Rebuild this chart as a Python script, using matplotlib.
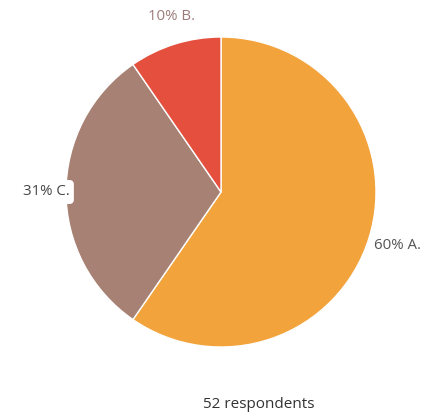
import matplotlib
matplotlib.use("Agg")
import matplotlib.pyplot as plt

# Survey answers (52 respondents)
labels = ["A.", "C.", "B."]
counts = [31, 16, 5]
percent_labels = ["60%", "31%", "10%"]
colors = ["#F2A33C", "#A78174", "#E5503E"]
total_label = "52 respondents"

plt.rcParams["font.family"] = ["Open Sans", "DejaVu Sans"]

fig = plt.figure(figsize=(4.25, 4.2), dpi=100)
fig.patch.set_facecolor("white")

ax = fig.add_axes([66 / 425, 1 - 347 / 420, 310 / 425, 310 / 420])
ax.pie(counts, colors=colors, startangle=90, counterclock=False,
       wedgeprops=dict(edgecolor="white", linewidth=1.0))
ax.set_aspect("equal")
ax.set_xlim(-1, 1)
ax.set_ylim(-1, 1)

box = dict(boxstyle="round,pad=0.3", facecolor="white", edgecolor="none")
fig.text(397 / 425, 1 - 245 / 420, f"{percent_labels[0]} {labels[0]}",
         ha="center", va="center", fontsize=10.8, color="#555555", bbox=box)
fig.text(46 / 425, 1 - 192 / 420, f"{percent_labels[1]} {labels[1]}",
         ha="center", va="center", fontsize=10.8, color="#444444", bbox=box)
fig.text(172 / 425, 1 - 17 / 420, f"{percent_labels[2]} {labels[2]}",
         ha="center", va="center", fontsize=10.8, color="#9c7c7a", bbox=box)

fig.text(259 / 425, 1 - 405 / 420, total_label, ha="center", va="center",
         fontsize=11, color="#333333")

fig.savefig("out.png", dpi=100, facecolor="white")
